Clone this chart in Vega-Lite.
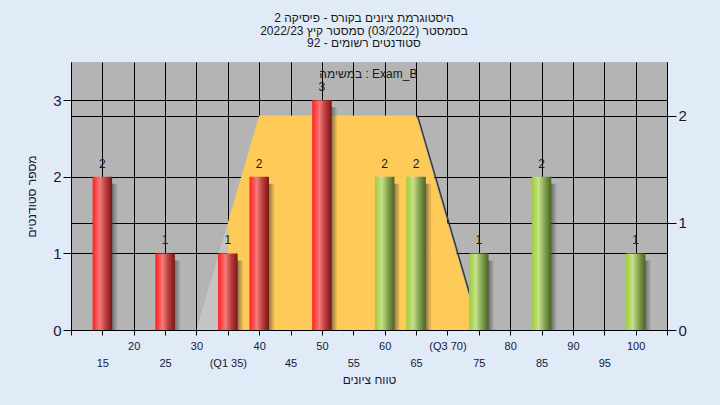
{
  "$schema": "https://vega.github.io/schema/vega-lite/v6.json",
  "width": 596,
  "height": 268,
  "autosize": "none",
  "padding": {"left": 71, "top": 62, "right": 53, "bottom": 75},
  "background": "#E1EBF7",
  "config": {
    "view": {"fill": "#B4B4B4", "stroke": null},
    "font": "Liberation Sans",
    "scale": {"continuousPadding": 0},
    "axis": {"domainColor": "#000", "tickColor": "#000", "gridColor": "#000", "gridOpacity": 1, "gridWidth": 1, "labelColor": "#14183a", "titleColor": "#14183a", "titleFontWeight": "normal"},
    "axisX": {
      "values": [10, 15, 20, 25, 30, 35, 40, 45, 50, 55, 60, 65, 70, 75, 80, 85, 90, 95, 100, 105],
      "labelExpr": "datum.value == 35 ? '(Q1 35)' : datum.value == 70 ? '(Q3 70)' : (datum.value == 10 || datum.value == 105) ? '' : datum.label",
      "labelOverlap": false,
      "labelFlush": false,
      "labelFontSize": 11,
      "tickSize": 5,
      "labelPadding": {"condition": {"test": "datum.value % 10 == 5", "value": 22}, "value": 5},
      "grid": true,
      "titleFontSize": 12,
      "titlePadding": 6
    }
  },
  "title": {
    "text": ["היסטוגרמת ציונים בקורס - פיסיקה 2", "בסמסטר  (03/2022)  סמסטר קיץ 2022/23", "סטודנטים רשומים - 92"],
    "fontSize": 12,
    "fontWeight": "normal",
    "color": "#1a1a1a",
    "lineHeight": 12.5,
    "offset": 12,
    "dx": -5
  },
  "datasets": {
    "bars": [
      {"score": 15, "count": 2, "result": "fail"},
      {"score": 25, "count": 1, "result": "fail"},
      {"score": 35, "count": 1, "result": "fail"},
      {"score": 40, "count": 2, "result": "fail"},
      {"score": 50, "count": 3, "result": "fail"},
      {"score": 60, "count": 2, "result": "pass"},
      {"score": 65, "count": 2, "result": "pass"},
      {"score": 75, "count": 1, "result": "pass"},
      {"score": 85, "count": 2, "result": "pass"},
      {"score": 100, "count": 1, "result": "pass"}
    ],
    "band": [
      {"score": 30, "level": 0, "part": "edge"},
      {"score": 35, "level": 1, "part": "edge"},
      {"score": 35, "level": 1, "part": "main"},
      {"score": 40, "level": 2, "part": "main"},
      {"score": 65, "level": 2, "part": "main"},
      {"score": 75, "level": 0, "part": "main"}
    ],
    "note": [{"label": "במשימה : Exam_B"}]
  },
  "layer": [
    {
      "data": {"name": "band"},
      "encoding": {
        "x": {"field": "score", "type": "quantitative", "scale": {"domain": [10, 105], "nice": false, "zero": false, "padding": 0}, "title": "טווח ציונים"},
        "y": {"field": "level", "type": "quantitative", "scale": {"domain": [0, 2.5], "nice": false},
          "axis": {"orient": "right", "values": [0, 1, 2], "title": null, "grid": true, "tickSize": 9, "labelPadding": 2, "labelFontSize": 15}}
      },
      "layer": [
        {"transform": [{"filter": "datum.part == 'edge'"}], "mark": {"type": "area", "color": "#ffffff", "opacity": 0.22}},
        {"transform": [{"filter": "datum.part == 'main'"}], "mark": {"type": "area", "color": "#FECB58", "opacity": 1}},
        {"transform": [{"filter": "datum.part == 'main' && datum.score >= 65"}], "mark": {"type": "line", "color": "#3a3a3a", "strokeWidth": 1.5, "xOffset": 1.5}}
      ]
    },
    {
      "data": {"name": "bars"},
      "encoding": {
        "x": {"field": "score", "type": "quantitative", "scale": {"domain": [10, 105], "nice": false, "zero": false, "padding": 0}, "title": "טווח ציונים"},
        "y": {"field": "count", "type": "quantitative", "scale": {"domain": [0, 3.5], "nice": false, "padding": 0},
          "axis": {"orient": "left", "values": [0, 1, 2, 3], "title": "מספר סטודנטים", "titleFontSize": 12, "titlePadding": 14, "grid": true, "tickSize": 8, "labelPadding": 2, "labelFontSize": 15}}
      },
      "layer": [
        {"mark": {"type": "bar", "width": 19.5, "xOffset": 6, "yOffset": 7, "clip": true,
          "color": {"gradient": "linear", "x1": 0, "y1": 0, "x2": 1, "y2": 0, "stops": [
            {"offset": 0, "color": "rgba(60,60,60,0.8)"},
            {"offset": 0.6, "color": "rgba(60,60,60,0.75)"},
            {"offset": 1, "color": "rgba(60,60,60,0)"}]}}},
        {"transform": [{"filter": "datum.result == 'fail'"}],
          "mark": {"type": "bar", "width": 19.5,
          "color": {"gradient": "linear", "x1": 0, "y1": 0, "x2": 1, "y2": 0, "stops": [
            {"offset": 0, "color": "#ff1e1e"},
            {"offset": 0.12, "color": "#ff3c3c"},
            {"offset": 0.38, "color": "#f27a7a"},
            {"offset": 0.65, "color": "#c04040"},
            {"offset": 1, "color": "#7a1515"}]}}},
        {"transform": [{"filter": "datum.result == 'pass'"}],
          "mark": {"type": "bar", "width": 19.5,
          "color": {"gradient": "linear", "x1": 0, "y1": 0, "x2": 1, "y2": 0, "stops": [
            {"offset": 0, "color": "#9fcb3c"},
            {"offset": 0.12, "color": "#aad451"},
            {"offset": 0.35, "color": "#c7e18e"},
            {"offset": 0.65, "color": "#86a550"},
            {"offset": 1, "color": "#4a6326"}]}}},
        {"mark": {"type": "text", "fontSize": 12, "dy": -9, "baseline": "alphabetic", "color": "#1a1a1a"},
          "encoding": {"text": {"field": "count", "type": "quantitative"}}}
      ]
    },
    {
      "data": {"name": "note"},
      "mark": {"type": "text", "fontSize": 12, "baseline": "middle", "align": "center", "color": "#1a1a1a"},
      "encoding": {
        "x": {"datum": 57.4, "type": "quantitative", "scale": {"domain": [10, 105], "nice": false, "zero": false, "padding": 0}, "title": "טווח ציונים"},
        "y": {"datum": 3.343, "type": "quantitative", "scale": {"domain": [0, 3.5], "nice": false}, "axis": null},
        "text": {"field": "label", "type": "nominal"}
      }
    }
  ],
  "resolve": {"scale": {"y": "independent"}}
}
